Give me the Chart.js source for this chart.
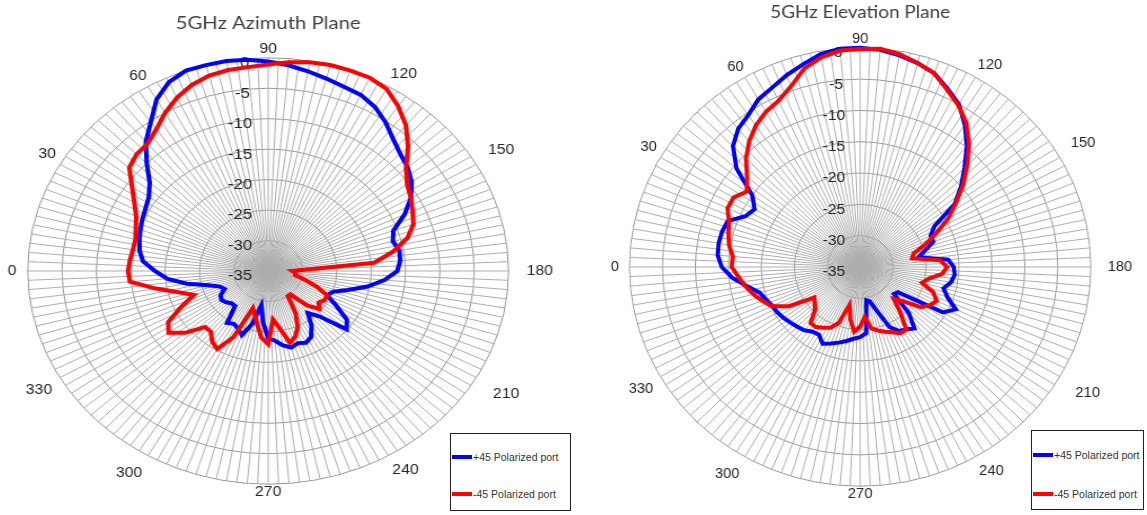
<!DOCTYPE html>
<html>
<head>
<meta charset="utf-8">
<title>5GHz radiation patterns</title>
<script src="https://cdn.jsdelivr.net/npm/chart.js@4.4.1/dist/chart.umd.min.js"></script>
<style>
  html, body { margin: 0; padding: 0; background: #fff; overflow: hidden; }
  body { width: 1147px; height: 515px; position: relative; }
  canvas { position: absolute; top: 0; }
  .legend { position: absolute; border: 1.5px solid #222; background: #fff; box-sizing: border-box;
            font: 10.5px "Liberation Sans", Arial, sans-serif; color: #333; }
  .legend .row { position: absolute; left: 1px; display: flex; align-items: center; white-space: nowrap; height: 12px; }
  .legend .swatch { display: inline-block; width: 20px; height: 4px; margin-right: 1px; }
</style>
</head>
<body>
<canvas id="azimuth" width="572" height="515" style="left:-60px;width:645px;height:515px"></canvas>
<canvas id="elevation" width="575" height="515" style="left:555px;width:605px;height:515px"></canvas>
<div class="legend" id="azimuthLegend" style="left:450px;top:433px;width:121px;height:78px"></div>
<div class="legend" id="elevationLegend" style="left:1031px;top:430px;width:113px;height:80px"></div>
<script>
// angle ticks shown round the rim (degrees, 0 on the left, clockwise)
const angleTicks = ['0', '30', '60', '90', '120', '150', '180', '210', '240', '270', '300', '330'];
const spokeStep = 2.5;   // grid spokes every 2.5 deg
const topAngle = 90;     // angle drawn at 12 o'clock
// readings in dB, starting at 0 deg, one every 5 deg
const azimuthPlus = [
  -18.5, -16.7, -16, -15.6, -15.2, -14.8, -14.4, -13.8, -12.5, -10, -7.3, -5.2,
  -2.5, -0.8, 0, 0, 0, -0.2, -0.6, -1.1, -1.7, -2.3, -2.8, -3.1,
  -3.9, -5.2, -6.7, -7.8, -8.5, -9.5, -11, -13.1, -15.6, -16.2, -15.6, -15.7,
  -16.2, -18, -20.3, -23, -25, -25.5, -23.5, -21, -20.1, -24.5, -26, -24,
  -22.5, -22, -22.4, -22, -22.6, -23.5, -24, -26.5, -29.3, -26, -23.8, -24.6,
  -25, -24.6, -27.5, -27.5, -27, -26.7, -27, -28, -27.5, -26, -23, -20.3
];
const azimuthMinus = [
  -14.6, -14.8, -15, -15, -14.5, -13.8, -12.5, -10.8, -8.6, -7.9, -7.7, -6.6,
  -5, -3.6, -2.5, -1.8, -1.5, -1.4, -1.1, -0.6, -0.2, 0, 0, 0,
  -0.5, -2, -3.8, -6.2, -8.8, -10.3, -11, -11.8, -12.5, -14, -16.5, -19.5,
  -31.5, -31, -31, -29.5, -27.5, -25.5, -25.5, -26, -25.3, -27, -30, -30,
  -27, -24.8, -23.5, -22.8, -25.5, -27, -23, -24, -26, -27.5, -28.5, -23,
  -20.2, -20.8, -22, -22, -19.2, -17.3, -18.2, -21, -23.5, -21.5, -18.4, -14.8
];
const elevationPlus = [
  -14, -13.3, -13.2, -13.3, -13.6, -15.8, -16.5, -15, -10.5, -7.7, -6.2, -5.4,
  -4.1, -3.4, -2.4, -1.5, -0.5, 0, 0, -0.2, -0.7, -1.3, -2.1, -3.6,
  -5, -7.3, -9.8, -12.6, -15, -17.5, -22, -23.2, -23.2, -24.8, -26, -21.6,
  -20.8, -20.6, -21, -21.9, -20.9, -19, -20.5, -28, -28.3, -24.5, -22.2, -22.8,
  -23.2, -24.4, -27.5, -29.3, -29.6, -24.4, -23.8, -23.5, -23, -22.5, -22, -21.5,
  -22.5, -22.4, -21.8, -21.5, -21.2, -20.8, -20.5, -20.3, -19.8, -19.2, -17.5, -15.5
];
const elevationMinus = [
  -15.5, -15.6, -14.8, -14.3, -13.8, -12.8, -12.8, -14, -12.6, -10.5, -8.8, -7.4,
  -6.4, -5.7, -4.3, -2.2, -1, -0.3, -0.2, 0, -0.5, -1.3, -2.1, -3.8,
  -5.2, -6.9, -9.3, -12, -14.6, -17.3, -19.6, -22.3, -24.5, -26.6, -27, -22.8,
  -21.8, -22.5, -24.4, -25.3, -23.2, -22.2, -22.8, -23.8, -26.5, -27.8, -25.5, -22.8,
  -22.8, -23.5, -24, -24.5, -25, -27, -25.5, -24.6, -26.5, -28.7, -25.5, -24.3,
  -23.8, -23.3, -23.3, -25.3, -26, -26.5, -22.5, -20.2, -19.2, -18.2, -17.3, -16.5
];

// gap between the rim and each angle tick, as in the original plot
const labelGap = { '0': 10, '30': 4, '60': 2, '120': 4, '150': 12, '180': 16, '210': 17, '240': 7, '300': 10, '330': 8 };

// spokes run clockwise starting from the top (90 deg)
const spokeLabels = [];
for (let k = 0; k < 360 / spokeStep; k++) spokeLabels.push(String((topAngle + k * spokeStep) % 360));

// one reading per 5 deg: leave the in-between spokes empty and let the line span them
function onSpokes(values) {
  const shift = topAngle / 5;
  const out = [];
  for (let k = 0; k < values.length; k++) {
    out.push(values[(k + shift) % values.length]);
    out.push(null);
  }
  return out;
}

function makePolar(id, title, titlePad, layoutPad, plus, minus) {
  return new Chart(document.getElementById(id), {
    type: 'radar',
    data: {
      labels: spokeLabels,
      datasets: [
        { label: '+45 Polarized port', data: onSpokes(plus), borderColor: '#0000ff', backgroundColor: '#0000ff',
          borderWidth: 4, pointRadius: 0, fill: false, spanGaps: true, order: 1 },
        { label: '-45 Polarized port', data: onSpokes(minus), borderColor: '#ff0000', backgroundColor: '#ff0000',
          borderWidth: 4, pointRadius: 0, fill: false, spanGaps: true, order: 0 }
      ]
    },
    options: {
      responsive: false,
      animation: false,
      layout: { padding: layoutPad },
      plugins: {
        legend: { display: false },
        tooltip: { enabled: false },
        title: {
          display: true, text: title, color: '#404040', padding: titlePad,
          font: { family: 'Lato, "Open Sans", sans-serif', size: 18, weight: 'normal' }
        }
      },
      scales: {
        r: {
          min: -35, max: 0,
          startAngle: 0,
          ticks: {
            // no backdrop, so no room reserved for one either
            stepSize: 5, showLabelBackdrop: false, backdropPadding: -7.5, color: '#262626',
            font: { family: '"Liberation Sans", Arial, sans-serif', size: 15, lineHeight: 0.35 },
            // sit the value just left of and below its ring
            callback: v => ['', String(v).padStart(3, ' ') + '            ']
          },
          grid: { circular: true, color: '#999999', lineWidth: 1 },
          angleLines: { color: '#adadad', lineWidth: 1 },
          pointLabels: {
            color: '#262626',
            padding: ctx => labelGap[ctx.label] || 0,
            font: { family: '"Liberation Sans", Arial, sans-serif', size: 14 },
            callback: label => angleTicks.includes(label) ? label : ''
          }
        }
      }
    }
  });
}

function buildLegend(chart, boxId, rowTops) {
  const box = document.getElementById(boxId);
  chart.data.datasets.forEach((ds, i) => {
    const row = document.createElement('div');
    row.className = 'row';
    row.style.top = rowTops[i] + 'px';
    const swatch = document.createElement('span');
    swatch.className = 'swatch';
    swatch.style.background = ds.borderColor;
    row.appendChild(swatch);
    row.appendChild(document.createTextNode(ds.label));
    box.appendChild(row);
  });
}

const azChart = makePolar('azimuth', '5GHz Azimuth Plane', { top: 12.4, bottom: 7 },
  { left: 19, right: 9, top: 0, bottom: 14 }, azimuthPlus, azimuthMinus);
const elChart = makePolar('elevation', '5GHz Elevation Plane', { top: 1, bottom: 8.4 },
  { left: 14, right: 9, top: 0, bottom: 12 }, elevationPlus, elevationMinus);

buildLegend(azChart, 'azimuthLegend', [17, 54]);
buildLegend(elChart, 'elevationLegend', [18, 57]);
</script>
</body>
</html>
